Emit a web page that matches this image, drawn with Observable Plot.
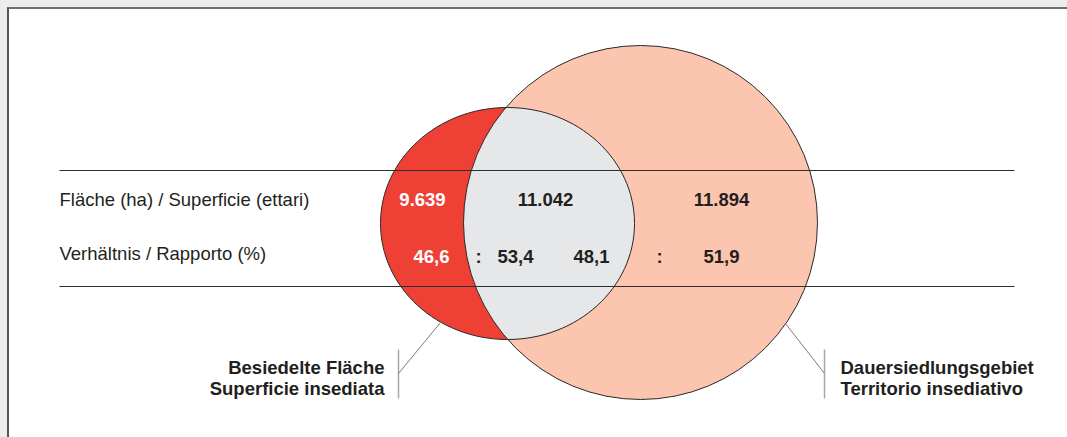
<!DOCTYPE html>
<html>
<head>
<meta charset="utf-8">
<script src="https://cdn.jsdelivr.net/npm/d3@7"></script>
<script src="https://cdn.jsdelivr.net/npm/@observablehq/plot@0.6"></script>
<style>
  html, body { margin: 0; padding: 0; width: 1067px; height: 437px; overflow: hidden; background: #ececec; }
  #panel { position: absolute; left: 7px; top: 7px; width: 1100px; height: 480px; background: #ffffff;
           border-top: 2px solid #707070; border-left: 2px solid #555555; }
  #chart { position: absolute; left: 0; top: 0; }
  #chart svg { background: transparent; }
</style>
</head>
<body>
<div id="panel"></div>
<div id="chart"></div>
<script>
// ---------------- DATA ----------------
const rowLabels = ["Fläche (ha) / Superficie (ettari)", "Verhältnis / Rapporto (%)"];
const regionNames = ["nur Besiedelte Fläche", "Schnittmenge", "nur Dauersiedlungsgebiet"];
const areaHa = [9639, 11042, 11894];
const ratioBesiedelt = [46.6, 53.4];   // within Besiedelte Fläche
const ratioDauer = [48.1, 51.9];       // within Dauersiedlungsgebiet
const setNames = ["Besiedelte Fläche\nSuperficie insediata", "Dauersiedlungsgebiet\nTerritorio insediativo"];

// ---------------- LAYOUT (chart units) ----------------
const big = {cx: 640, cy: 222, r: 177};
const small = {cx: 507, cy: 223, rx: 127, ry: 116};
const rowY = [200, 254];
const valueY = [200, 257];
const areaX = [422, 545, 721];
const ratioX = [431, 515, 591, 721];
const colonX = [478, 659];
const ruleYs = [170, 286];
const ruleX = [59, 1014];
const labelX = 59;
const setLabelX = [384, 840];
const setLabelY = 377;
const barX = [398, 824];
const barY = [349, 398];
const leaderFrom = [[398, 373], [824, 373]];
const leaderTo = [[440, 322], [785, 323]];

// ---------------- STYLE ----------------
const RED = "#ef4036", GREY = "#e6e7e9", PEACH = "#fbc5b0", INK = "#231f20";
const FONT = "Liberation Sans, Arial, Helvetica, sans-serif";
const FS = 18.5;

const de = d3.formatLocale({decimal: ",", thousands: ".", grouping: [3], currency: ["", "€"]});
const fInt = de.format(",d");
const fDec = de.format(".1f");

// ellipse symbol (aspect = rx/ry)
function ellipseSymbol(aspect) {
  return {
    draw(ctx, size) {
      const r = Math.sqrt(size / Math.PI);
      const rx = r * aspect, ry = r, k = 0.5522847498;
      ctx.moveTo(rx, 0);
      ctx.bezierCurveTo(rx, ry * k, rx * k, ry, 0, ry);
      ctx.bezierCurveTo(-rx * k, ry, -rx, ry * k, -rx, 0);
      ctx.bezierCurveTo(-rx, -ry * k, -rx * k, -ry, 0, -ry);
      ctx.bezierCurveTo(rx * k, -ry, rx, -ry * k, rx, 0);
      ctx.closePath();
    }
  };
}
const smallSym = ellipseSymbol(small.rx / small.ry);

// ---------------- TABLES ----------------
const bigT = [{name: setNames[1], x: big.cx, y: big.cy}];
const smallT = [{name: setNames[0], x: small.cx, y: small.cy}];
const rowT = rowLabels.map((t, i) => ({t, x: labelX, y: rowY[i]}));
const areaT = areaHa.map((v, i) => ({t: fInt(v), x: areaX[i], y: valueY[0], white: i === 0, region: regionNames[i]}));
const ratioVals = [...ratioBesiedelt, ...ratioDauer];
const ratioT = ratioVals.map((v, i) => ({t: fDec(v), x: ratioX[i], y: valueY[1], white: i === 0}));
const colonT = colonX.map(x => ({t: ":", x, y: valueY[1]}));
const ruleT = ruleYs.map(y => ({x1: ruleX[0], x2: ruleX[1], y}));
const setT = setNames.map((t, i) => ({t, x: setLabelX[i], y: setLabelY, anchor: i === 0 ? "end" : "start"}));
const barT = barX.map(x => ({x, y1: barY[0], y2: barY[1]}));
const leaderT = leaderFrom.map((p, i) => ({x1: p[0], y1: p[1], x2: leaderTo[i][0], y2: leaderTo[i][1]}));

const plot = Plot.plot({
  width: 1067,
  height: 437,
  margin: 0,
  x: {domain: [0, 1067], range: [0, 1067], axis: null},
  y: {domain: [0, 437], range: [0, 437], axis: null},
  style: {background: "transparent"},
  marks: [
    Plot.dot(bigT, {x: "x", y: "y", r: big.r, fill: PEACH, stroke: "none"}),
    Plot.dot(smallT, {x: "x", y: "y", r: small.ry, symbol: smallSym, fill: RED, stroke: "none"}),
    Plot.dot(smallT, {x: "x", y: "y", r: small.ry, symbol: smallSym, fill: GREY, stroke: "none"}),
    Plot.dot(bigT, {x: "x", y: "y", r: big.r, fill: "none", stroke: "#2a2a2a", strokeWidth: 1}),
    Plot.dot(smallT, {x: "x", y: "y", r: small.ry, symbol: smallSym, fill: "none", stroke: "#2a2a2a", strokeWidth: 1}),
    Plot.link(ruleT, {x1: "x1", x2: "x2", y1: "y", y2: "y", stroke: "#2e2e2e", strokeWidth: 1.2}),
    Plot.link(barT, {x1: "x", x2: "x", y1: "y1", y2: "y2", stroke: "#a8a8a8", strokeWidth: 1.5}),
    Plot.link(leaderT, {x1: "x1", y1: "y1", x2: "x2", y2: "y2", stroke: "#7a7a7a", strokeWidth: 1}),
    Plot.text(rowT, {x: "x", y: "y", text: "t", textAnchor: "start", fill: INK, fontSize: FS, fontFamily: FONT}),
    Plot.text(areaT, {x: "x", y: "y", text: "t", fill: d => d.white ? "#ffffff" : INK, fontSize: FS, fontWeight: "bold", fontFamily: FONT}),
    Plot.text(ratioT, {x: "x", y: "y", text: "t", fill: d => d.white ? "#ffffff" : INK, fontSize: FS, fontWeight: "bold", fontFamily: FONT}),
    Plot.text(colonT, {x: "x", y: "y", text: "t", fill: INK, fontSize: FS, fontWeight: "bold", fontFamily: FONT}),
    Plot.text(setT.filter(d => d.anchor === "end"), {x: "x", y: "y", text: "t", textAnchor: "end", lineHeight: 1.18, fill: INK, fontSize: FS, fontWeight: "bold", fontFamily: FONT}),
    Plot.text(setT.filter(d => d.anchor === "start"), {x: "x", y: "y", text: "t", textAnchor: "start", lineHeight: 1.18, fill: INK, fontSize: FS, fontWeight: "bold", fontFamily: FONT})
  ]
});

// clip the grey lens (intersection) to the big circle
const xs = plot.scale("x"), ys = plot.scale("y");
const svg = d3.select(plot);
const defs = svg.insert("defs", ":first-child");
defs.append("clipPath").attr("id", "bigClip")
  .append("circle")
  .attr("cx", xs.apply(big.cx)).attr("cy", ys.apply(big.cy)).attr("r", big.r);
const dotGroups = plot.querySelectorAll("g[aria-label='dot']");
if (dotGroups.length >= 3) d3.select(dotGroups[2]).attr("clip-path", "url(#bigClip)");

document.getElementById("chart").appendChild(plot);
</script>
</body>
</html>
